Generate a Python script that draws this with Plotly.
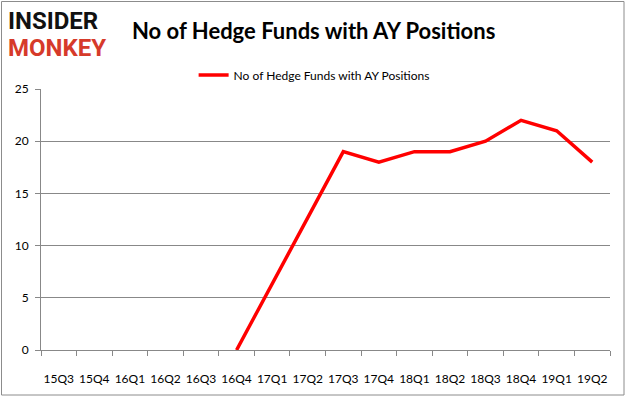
import plotly.graph_objects as go

quarters = ["15Q3", "15Q4", "16Q1", "16Q2", "16Q3", "16Q4", "17Q1", "17Q2",
            "17Q3", "17Q4", "18Q1", "18Q2", "18Q3", "18Q4", "19Q1", "19Q2"]
funds = [None, None, None, None, None, 0, None, None, 19, 18, 19, 19, 20, 22, 21, 18]
y_ticks = [0, 5, 10, 15, 20, 25]
series_name = "No of Hedge Funds with AY Positions"

W, H = 626, 397
L, R, T, B = 41, 16, 89, 47
pw, ph = W - L - R, H - T - B

def px_x(x):
    return (x - L) / pw

def px_y(y):
    return (H - B - y) / ph

fig = go.Figure()
fig.add_trace(go.Scatter(
    x=quarters, y=funds, mode="lines", name=series_name,
    line=dict(color="#ff0000", width=3.5), connectgaps=True,
))

fig.update_layout(
    width=W, height=H,
    margin=dict(l=L, r=R, t=T, b=B, autoexpand=False),
    paper_bgcolor="white", plot_bgcolor="white",
    font=dict(family="Lato, Open Sans, sans-serif", size=12, color="#000000"),
    showlegend=True,
    legend=dict(orientation="h", x=0.48, xanchor="center", y=px_y(75), yanchor="middle",
                font=dict(size=12), bgcolor="rgba(0,0,0,0)"),
    xaxis=dict(
        type="category", categoryorder="array", categoryarray=quarters,
        range=[-0.5, len(quarters) - 0.5],
        showline=True, linecolor="#888888", linewidth=1,
        ticks="outside", tickson="boundaries", ticklen=5, tickcolor="#888888",
        showgrid=False, tickfont=dict(size=12), zeroline=False,
        tickangle=0, automargin=False, ticklabelstandoff=18,
    ),
    yaxis=dict(
        range=[0, 25], tickvals=y_ticks, ticktext=[str(v) for v in y_ticks],
        showline=True, linecolor="#888888", linewidth=1,
        ticks="outside", ticklen=5, tickcolor="#888888",
        showgrid=True, gridcolor="#888888", gridwidth=1, zeroline=False,
        tickfont=dict(size=12), automargin=False, ticklabelstandoff=4,
    ),
    shapes=[dict(type="rect", xref="paper", yref="paper",
                 x0=px_x(1.5), x1=px_x(624), y0=px_y(395), y1=px_y(1.5),
                 line=dict(color="#8c8c8c", width=1), fillcolor="rgba(0,0,0,0)", layer="below")],
    annotations=[
        dict(text="<b>No of Hedge Funds with AY Positions</b>", xref="paper", yref="paper",
             x=px_x(313), y=px_y(31), xanchor="center", yanchor="middle", showarrow=False,
             font=dict(size=22, family="Lato, sans-serif", color="#000000")),
        dict(text="<b>INSIDER</b>", xref="paper", yref="paper",
             x=px_x(6), y=px_y(21), xanchor="left", yanchor="middle", showarrow=False,
             font=dict(size=24, family="Roboto, sans-serif", color="#111111")),
        dict(text="<b>MONKEY</b>", xref="paper", yref="paper",
             x=px_x(6), y=px_y(48), xanchor="left", yanchor="middle", showarrow=False,
             font=dict(size=24, family="Roboto, sans-serif", color="#d63a2a")),
    ],
)

fig.write_html("out.html", config={"displayModeBar": False},
               post_script="document.body.style.margin='0';document.body.style.overflow='hidden';")
